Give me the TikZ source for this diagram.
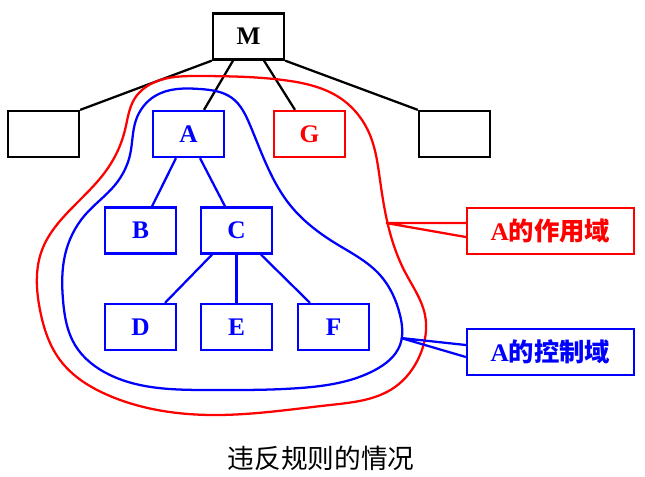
\documentclass[tikz,border=0pt]{standalone}
\usepackage{fontspec}
\setmainfont{Liberation Serif}
\newfontfamily\cjk{Noto Sans CJK SC}
\definecolor{scopered}{RGB}{255,0,0}
\definecolor{ctrlblue}{RGB}{0,0,255}
\usetikzlibrary{calc,hobby}

\begin{document}
\begin{tikzpicture}[x=0.75pt,y=-0.75pt,
    modbox/.style={draw, line width=1.7pt, minimum width=53.3pt, minimum height=34.5pt, inner sep=0pt, font=\fontsize{19}{22}\selectfont\bfseries},
    callbox/.style={draw, line width=1.7pt, minimum width=125.3pt, minimum height=34.5pt, inner sep=0pt, font=\fontsize{19}{22}\selectfont\bfseries},
    link/.style={line width=1.7pt}]
    \useasboundingbox (0,0) rectangle (645,476);

    % Upper level
    \node[modbox] (m) at (248.5,36.5) {M};
    \node[modbox] (lbox) at (43.5,134) {};
    \node[modbox, ctrlblue] (a) at (188.5,134) {A};
    \node[modbox, scopered] (g) at (309.5,134) {G};
    \node[modbox] (rbox) at (454.5,134) {};

    % Modules below A
    \node[modbox, ctrlblue] (b) at (140.5,230.5) {B};
    \node[modbox, ctrlblue] (c) at (236.5,230.5) {C};
    \node[modbox, ctrlblue] (d) at (140.5,327) {D};
    \node[modbox, ctrlblue] (e) at (236.5,327) {E};
    \node[modbox, ctrlblue] (f) at (333.5,327) {F};

    \draw[link] (m.south west) -- (lbox.north east);
    \draw[link] ($(m.south)+(-15.5,0)$) -- ($(a.north)+(15.5,0)$);
    \draw[link] ($(m.south)+(15.5,0)$) -- ($(g.north)+(-14.5,0)$);
    \draw[link] (m.south east) -- (rbox.north west);
    \draw[link, ctrlblue] ($(a.south)+(-12.5,0)$) -- ($(b.north)+(11.5,0)$);
    \draw[link, ctrlblue] ($(a.south)+(11.5,0)$) -- ($(c.north)+(-11.5,0)$);
    \draw[link, ctrlblue] ($(c.south)+(-24.5,0)$) -- ($(d.north)+(24.5,0)$);
    \draw[link, ctrlblue] (c.south) -- (e.north);
    \draw[link, ctrlblue] ($(c.south)+(24.5,0)$) -- ($(f.north)+(-23.5,0)$);

    % Scope of effect
    \draw[link, scopered, use Hobby shortcut, closed=true]
        (200,76) .. (283,80) .. (343,100) .. (370,135) .. (380,180) .. (388,225)
        .. (405,272) .. (425,315) .. (420,355) .. (395,387) .. (330,405) .. (213,415)
        .. (110,396) .. (60,360) .. (40,310) .. (42,250) .. (70,210) .. (108,168)
        .. (125,130) .. (135,98) .. (155,82);
    % Scope of control
    \draw[link, ctrlblue, use Hobby shortcut, closed=true]
        (200,89) .. (232,98) .. (250,125) .. (268,168) .. (290,205) .. (335,243)
        .. (380,275) .. (400,315) .. (400,345) .. (375,370) .. (300,388) .. (210,390)
        .. (110,375) .. (75,345) .. (63,300) .. (65,255) .. (85,215) .. (115,185)
        .. (130,155) .. (136,120) .. (155,96);

    % Callouts
    \node[callbox, scopered] (zy) at (550.5,231) {A{\cjk 的作用域}};
    \node[callbox, ctrlblue] (kz) at (550.5,352) {A{\cjk 的控制域}};
    \coordinate (zytip) at (386,223);
    \coordinate (kztip) at (401,338);
    \draw[link, scopered, line join=miter] ($(zy.west)+(0,-8)$) -- (zytip) -- ($(zy.west)+(0,6)$);
    \draw[link, ctrlblue, line join=miter] ($(kz.west)+(0,-7)$) -- (kztip) -- ($(kz.west)+(0,5)$);

    \node[font=\fontsize{20}{24}\selectfont\cjk] (cap) at (321,458) {违反规则的情况};
\end{tikzpicture}
\end{document}
